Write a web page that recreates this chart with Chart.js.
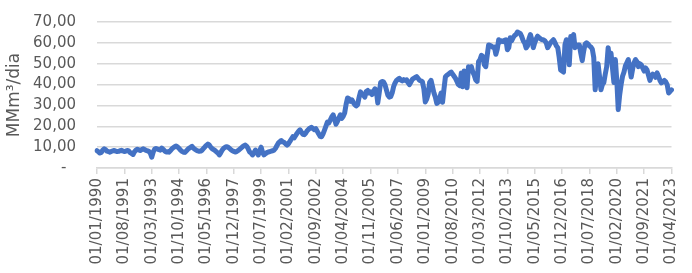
<!DOCTYPE html>
<html>
<head>
<meta charset="utf-8">
<script src="https://cdn.jsdelivr.net/npm/chart.js@4/dist/chart.umd.min.js"></script>
<style>
  body { margin: 0; background: #fff; }
</style>
</head>
<body>
<canvas id="chart" width="692" height="273"></canvas>
<script>
// monthly values, MMm³/dia, starting 01/1990
const values1990s = [
    8.3, 7.8, 7.2, 7.5, 8.6, 9.2, 8.8, 8.1, 7.9, 7.6, 8.0, 8.2,
    8.4, 8.1, 7.9, 8.0, 8.3, 8.5, 8.2, 7.9, 8.1, 8.4, 8.2, 7.4,
    7.0, 6.5, 7.8, 8.6, 9.0, 8.7, 8.4, 8.8, 9.2, 8.9, 8.5, 8.3,
    8.0, 7.2, 5.2, 7.6, 9.0, 9.4, 9.1, 8.8, 8.6, 9.6, 9.0, 8.2,
    7.7, 7.8, 7.6, 8.4, 9.2, 9.8, 10.2, 10.6, 10.1, 9.4, 8.6, 8.0,
    7.6, 7.5, 8.2, 8.9, 9.5, 9.9, 10.4, 9.6, 9.0, 8.5, 8.2, 8.0,
    8.1, 8.6, 9.4, 10.2, 10.9, 11.5, 11.0, 10.0, 9.3, 8.8, 8.4, 7.8,
    7.2, 6.3, 7.4, 8.6, 9.5, 10.0, 10.2, 10.0, 9.4, 8.8, 8.3, 8.0,
    7.7, 7.9, 8.4, 9.0, 9.6, 10.2, 10.7, 11.0, 10.4, 9.2, 7.7, 7.2,
    6.3, 7.2, 8.6, 7.8, 6.3, 8.4, 10.0, 7.5, 6.3, 6.9, 7.4, 7.7
];
const values2000s = [
    7.9, 8.1, 8.3, 8.6, 9.5, 10.8, 12.0, 12.6, 13.2, 12.5, 12.3, 11.6,
    11.0, 11.6, 12.8, 13.9, 15.0, 14.5, 15.6, 16.7, 17.6, 18.3, 17.2, 16.2,
    16.0, 16.8, 17.9, 18.6, 19.2, 19.5, 18.9, 18.4, 18.9, 17.6, 16.3, 15.2,
    15.0, 16.4, 18.2, 20.1, 22.0, 21.6, 23.0, 24.5, 25.5, 23.4, 21.0, 22.4,
    24.0, 25.5, 23.8, 24.8, 26.4, 30.5, 33.6, 33.2, 32.0, 32.7, 31.5, 30.4,
    29.8, 30.3, 33.8, 36.5, 35.4, 35.0, 34.0, 36.7, 37.2, 36.0, 36.5, 35.2,
    36.5, 38.0, 37.0, 31.2, 36.0, 41.0, 41.5, 41.3, 40.0, 37.5, 35.0, 34.0,
    34.2, 36.0, 39.0, 40.8, 42.0, 42.5, 43.0, 42.2, 41.8, 42.4, 42.0, 42.3,
    41.0, 40.0, 41.2, 42.5, 43.0, 43.4, 43.8, 43.0, 42.0, 41.8, 41.3, 38.0,
    31.7, 33.0, 35.5, 41.0, 42.0, 39.0, 36.0, 34.0, 31.0, 31.5, 33.6, 36.0
];
const values2010s = [
    31.5, 38.0, 43.8, 44.5, 45.0, 45.5, 46.0, 45.0, 44.0, 43.0, 41.5, 40.0,
    39.5, 45.5, 39.0, 46.5, 44.0, 38.5, 48.6, 48.0, 48.6, 46.0, 44.5, 42.3,
    41.5, 51.0, 52.0, 54.0, 53.5, 49.5, 48.6, 54.0, 59.0, 58.8, 58.4, 57.8,
    58.0, 54.5, 57.0, 61.5, 60.5, 61.0, 60.6, 61.2, 61.5, 56.7, 57.7, 62.5,
    61.0, 62.5, 63.5, 64.0, 65.2, 64.8, 64.5, 63.0, 61.0, 60.0, 57.6, 58.5,
    62.0, 64.0, 61.5, 57.7, 60.0, 61.8, 63.2, 62.5, 62.0, 61.5, 61.5, 61.0,
    60.0, 57.7, 58.8, 60.0, 60.8, 61.5, 60.2, 58.6, 57.7, 53.0, 47.0, 46.5,
    46.0, 59.0, 61.5, 60.0, 49.5, 63.0, 62.0, 64.0, 57.7, 58.5, 59.0, 59.0,
    55.0, 51.5, 56.0, 59.5, 60.0, 59.5, 58.5, 58.0, 57.0, 53.0, 37.5, 44.0,
    50.0, 44.0, 37.5, 40.0, 41.0, 45.0, 48.6, 57.7, 52.0, 55.0, 48.0, 41.0
];
const values2020s = [
    52.0, 42.0, 28.0, 35.0, 40.0, 44.0, 46.0, 49.0, 50.5, 52.0, 48.0, 43.6,
    47.5, 50.5, 52.0, 51.0, 48.6, 50.0, 49.5, 48.0, 46.5, 48.0, 47.0, 44.5,
    42.0, 44.0, 45.0, 44.5, 43.5, 45.6, 44.0, 42.0, 40.8, 41.5, 42.0, 41.3,
    40.0, 36.0, 36.7, 37.5
];

const tickLabels = [
    '01/01/1990', '01/08/1991', '01/03/1993', '01/10/1994', '01/05/1996', '01/12/1997',
    '01/07/1999', '01/02/2001', '01/09/2002', '01/04/2004', '01/11/2005', '01/06/2007',
    '01/01/2009', '01/08/2010', '01/03/2012', '01/10/2013', '01/05/2015', '01/12/2016',
    '01/07/2018', '01/02/2020', '01/09/2021', '01/04/2023'
];

const yTicks = [0, 10, 20, 30, 40, 50, 60, 70];
const startYear = 1990;

const values = [...values1990s, ...values2000s, ...values2010s, ...values2020s];

// one dd/mm/yyyy label per month
const months = values.map((v, i) => {
    const m = (i % 12) + 1;
    const y = startYear + Math.floor(i / 12);
    return '01/' + String(m).padStart(2, '0') + '/' + y;
});

const textColor = '#595959';
const gridColor = '#d9d9d9';
const font = 'DejaVu Sans';

new Chart(document.getElementById('chart').getContext('2d'), {
    type: 'line',
    data: {
        labels: months,
        datasets: [{
            data: values,
            borderColor: '#4472c4',
            borderWidth: 5,
            borderCapStyle: 'round',
            borderJoinStyle: 'round',
            pointRadius: 0,
            tension: 0,
            fill: false
        }]
    },
    options: {
        responsive: false,
        animation: false,
        layout: { padding: { left: 2, right: 18, top: 22, bottom: 4.5 } },
        plugins: {
            legend: { display: false },
            tooltip: { enabled: false }
        },
        scales: {
            x: {
                type: 'category',
                offset: false,
                grid: {
                    display: true,
                    drawOnChartArea: false,
                    drawTicks: true,
                    tickLength: 6,
                    color: gridColor,
                    lineWidth: 1.5
                },
                border: { display: true, color: gridColor, width: 1.5 },
                ticks: {
                    autoSkip: false,
                    maxRotation: 90,
                    minRotation: 90,
                    padding: 4,
                    color: textColor,
                    font: { family: font, size: 15, lineHeight: 1.1 },
                    // only every 19th month gets a label and a tick mark
                    callback: function (value) {
                        const lbl = this.getLabelForValue(value);
                        return tickLabels.includes(lbl) ? lbl : null;
                    }
                }
            },
            y: {
                min: 0,
                max: 70,
                afterBuildTicks: (scale) => {
                    scale.ticks = yTicks.map(v => ({ value: v }));
                },
                afterFit: (scale) => {
                    scale.width = 95;
                },
                grid: {
                    color: gridColor,
                    lineWidth: 1.5,
                    drawTicks: true,
                    tickLength: 18,
                    tickColor: 'rgba(0,0,0,0)'
                },
                border: { display: false },
                ticks: {
                    autoSkip: false,
                    padding: 3,
                    color: textColor,
                    font: { family: font, size: 15 },
                    callback: (v) => v === 0 ? '-  ' : v.toFixed(2).replace('.', ',')
                },
                title: {
                    display: true,
                    text: 'MMm³/dia',
                    color: textColor,
                    font: { family: font, size: 17 },
                    padding: { top: 2, bottom: 8 }
                }
            }
        }
    }
});
</script>
</body>
</html>
